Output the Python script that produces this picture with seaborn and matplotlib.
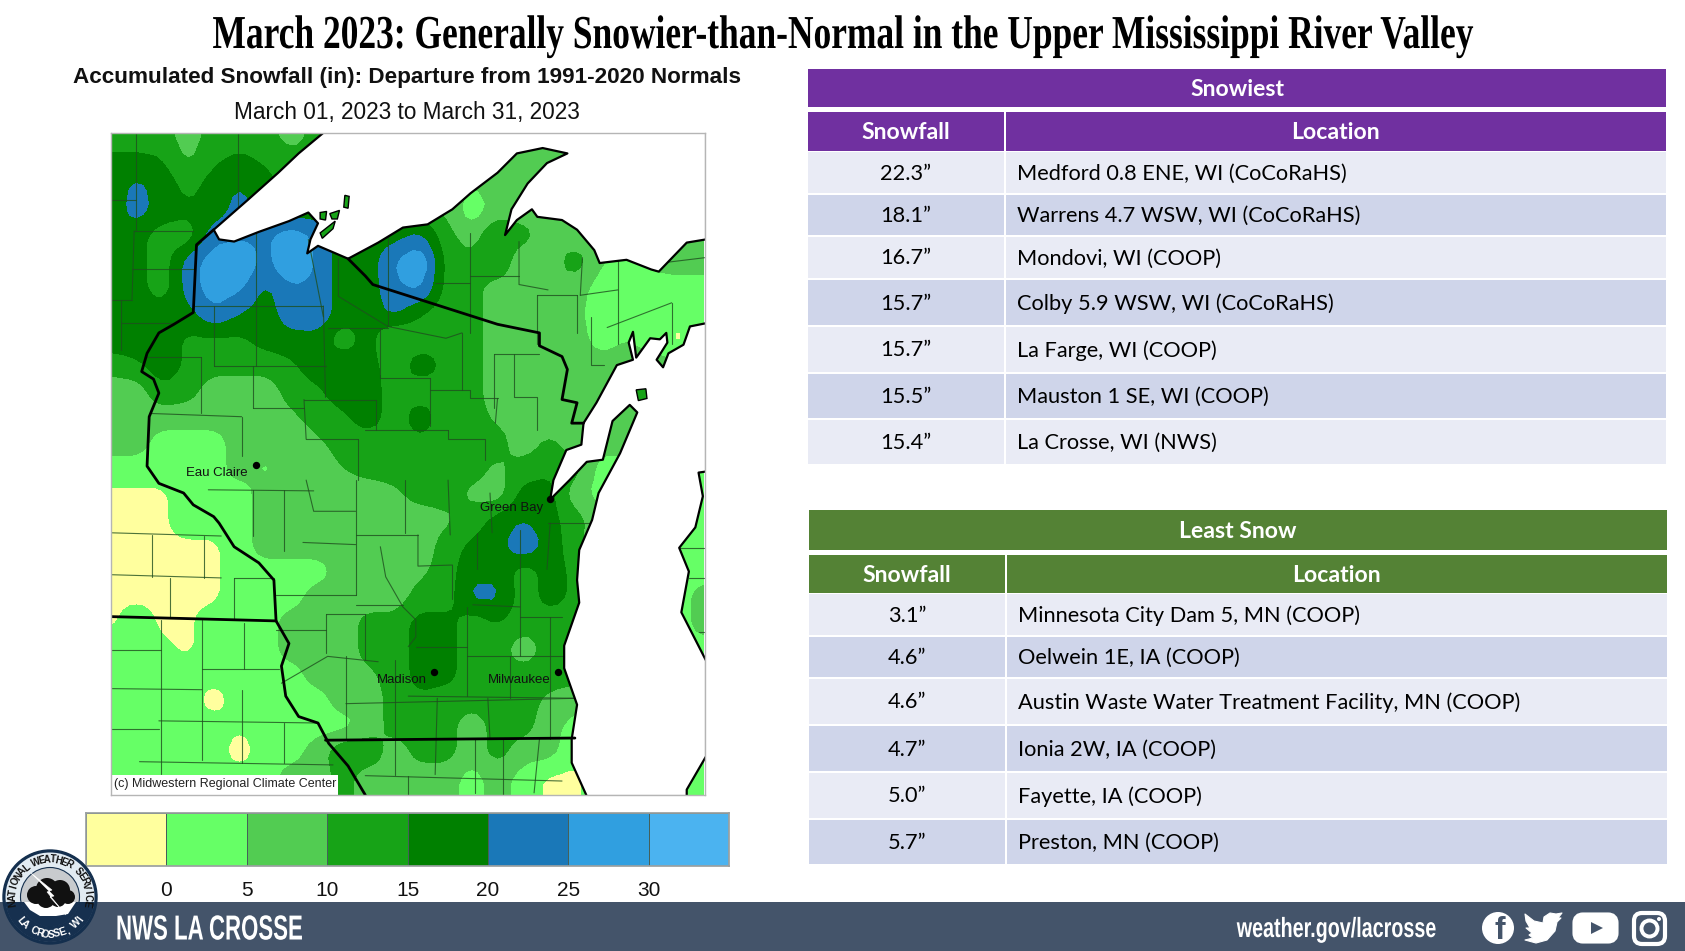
import math
import numpy as np
import seaborn as sns
import matplotlib
matplotlib.use('Agg')
import matplotlib.pyplot as plt
from matplotlib.colors import ListedColormap
from matplotlib.patches import Rectangle, Polygon, Circle, FancyBboxPatch
from matplotlib.patheffects import AbstractPathEffect
from matplotlib.transforms import Affine2D

sns.set_theme(style='white')
plt.rcParams['font.family'] = ['Liberation Sans', 'DejaVu Sans']

# Table values
snowiest_amounts = ['22.3”', '18.1”', '16.7”', '15.7”', '15.7”', '15.5”', '15.4”']
snowiest_places = ['Medford 0.8 ENE, WI (CoCoRaHS)', 'Warrens 4.7 WSW, WI (CoCoRaHS)', 'Mondovi, WI (COOP)',
                   'Colby 5.9 WSW, WI (CoCoRaHS)', 'La Farge, WI (COOP)', 'Mauston 1 SE, WI (COOP)',
                   'La Crosse, WI (NWS)']
least_amounts = ['3.1”', '4.6”', '4.6”', '4.7”', '5.0”', '5.7”']
least_places = ['Minnesota City Dam 5, MN (COOP)', 'Oelwein 1E, IA (COOP)',
                'Austin Waste Water Treatment Facility, MN (COOP)', 'Ionia 2W, IA (COOP)',
                'Fayette, IA (COOP)', 'Preston, MN (COOP)']

# Legend
band_levels = [-100, 0, 5, 10, 15, 20, 25, 30, 100]
band_colors = ['#FFFF9E', '#66FF66', '#52CC52', '#17A317', '#008000', '#1A78B8', '#309FE0', '#4BB3F0']
legend_ticks = ['0', '5', '10', '15', '20', '25', '30']

# Snowfall departure (in), on a 24 unit grid
grid_x = list(range(103, 104 + 24 * 23, 24))
grid_y = list(range(124, 125 + 24 * 26, 24))
snow_dep = np.array([
    [12, 12, 12, 7, 12, 12, 12, 7, 12, 12, 12, 12, 12, 12, 12, 12, 12, 12, 7, 7, 7, 7, 7, 7],
    [16, 16, 15, 9, 14, 16, 14, 12, 12, 12, 12, 12, 12, 10, 7, 7, 7, 7, 7, 7, 7, 7, 7, 7],
    [17, 21, 18, 13, 17, 20, 17, 12, 12, 12, 12, 12, 12, 9, 5, 7, 7, 7, 7, 7, 7, 7, 7, 7],
    [17, 22, 18, 16, 17, 22, 17, 17, 17, 17, 17, 17, 12, 9, 2, 7, 7, 7, 7, 7, 7, 7, 7, 7],
    [18, 17, 12, 12, 23, 24, 24, 28, 24, 17, 17, 18, 21, 12, 7, 16, 12, 7, 7, 7, 7, 7, 7, 7],
    [18, 17, 12, 22, 28, 30, 23, 31, 24, 17, 17, 25, 30, 13, 12, 16, 4, 7, 13, 5, 4, 6, 7, 7],
    [18, 17, 12, 22, 28, 26, 19, 24, 24, 17, 17, 24, 26, 13, 12, 7, 7, 7, 7, 3, 3, 3, 3, 3],
    [18, 18, 18, 18, 24, 20, 17, 23, 24, 17, 17, 21, 15, 12, 12, 7, 7, 7, 6, 3, 3, 3, 3, 3],
    [18, 18, 18, 14, 14, 14, 17, 18, 18, 12, 17, 8, 12, 12, 12, 7, 7, 7, 7, 3, 5, 3, -2, 3],
    [12, 14, 18, 14, 12, 12, 12, 14, 18, 18, 17, 12, 18, 14, 12, 7, 7, 7, 7, 7, 7, 7, 7, 7],
    [7, 7, 14, 12, 7, 7, 7, 12, 14, 18, 18, 12, 12, 12, 12, 7, 7, 7, 7, 7, 7, 7, 7, 7],
    [7, 7, 7, 7, 7, 7, 7, 9, 12, 14, 18, 12, 18, 12, 12, 9, 7, 7, 7, 7, 7, 7, 7, 7],
    [7, 7, 3, 3, 3, 7, 7, 7, 9, 12, 12, 12, 14, 12, 12, 12, 7, 11, 7, 7, 7, 7, 7, 7],
    [3, 3, 3, 3, 3, 7, 4, 7, 7, 10, 12, 12, 12, 12, 12, 9, 12, 14, 12, 3, 3, 3, 3, 3],
    [-1, -1, -1, 3, 3, 3, 7, 7, 7, 7, 7, 9, 12, 12, 9, 7, 17, 17, 7, 3, 3, 3, 3, 3],
    [-1, -1, -1, 3, 3, 3, 7, 7, 7, 7, 7, 7, 7, 9, 12, 17, 20, 17, 12, 7, 3, 3, 3, 3],
    [-1, -1, -1, -1, -1, 3, 7, 7, 7, 7, 7, 7, 7, 12, 16, 18, 24, 18, 12, 5, 3, 3, 3, 3],
    [-1, -1, -1, -1, -1, 3, 3, 3, 3, 7, 7, 7, 9, 12, 19, 19, 12, 17, 14, 3, 3, 3, 3, 3],
    [-1, -1, -1, -1, -1, 3, 3, 3, 7, 7, 7, 7, 12, 12, 21, 21, 12, 17, 14, 3, 3, 3, 3, 7],
    [-1, 3, -1, -1, 3, 3, 3, 7, 7, 7, 12, 12, 17, 17, 12, 15, 12, 12, 12, 3, 3, 3, 3, 7],
    [3, 3, 1, -1, 3, 3, 3, 7, 7, 7, 12, 12, 17, 17, 12, 12, 7, 12, 12, 3, 3, 3, 3, 3],
    [3, 3, 3, 3, 2, 3, 3, 3, 7, 7, 9, 12, 17, 17, 12, 12, 12, 12, 12, 3, 3, 3, 3, 3],
    [3, 3, 3, 3, -3, 3, 3, 3, 3, 7, 7, 12, 14, 12, 12, 12, 12, 9, 7, 3, 3, 3, 3, 3],
    [3, 3, 3, 3, 3, 0.5, 3, 3, 3, 3, 7, 12, 12, 12, 7, 12, 12, 7, 3, 3, 3, 3, 3, 3],
    [3, 3, 3, 3, 3, -3, 3, 3, 7, 14, 14, 7, 12, 12, 7, 12, 7, 7, 1, 3, 3, 3, 3, 3],
    [3, 3, 3, 3, 3, 3, 3, 7, 7, 12, 7, 7, 7, 7, 3, 7, 3, -1, -1, 3, 3, 3, 3, 3],
    [3, 3, 3, 3, 3, 3, 3, 7, 7, 12, 7, 7, 7, 7, 3, 7, 3, -1, -1, 3, 3, 3, 3, 3],
], dtype=float)

# Coast outlines
lake_superior = [(302, 123), (278, 143), (259, 161), (231, 186), (199, 214), (204, 223), (218, 225), (241, 216),
                 (269, 206), (287, 198), (296, 208), (289, 223), (286, 236), (296, 229), (324, 241), (352, 226),
                 (375, 212), (398, 209), (421, 195), (438, 180), (463, 161), (481, 143), (505, 138), (528, 143),
                 (509, 152), (491, 171), (476, 195), (470, 219), (481, 205), (495, 195), (500, 202), (523, 205),
                 (537, 214), (553, 233), (558, 245), (583, 242), (606, 251), (613, 253), (639, 226), (657, 223),
                 (657, 123)]
lake_michigan = [(512, 465), (515, 447), (527, 419), (541, 414), (543, 394), (555, 375), (574, 340), (589, 335),
                 (585, 319), (589, 309), (592, 333), (605, 315), (614, 316), (620, 310), (621, 319), (611, 335),
                 (617, 342), (622, 329), (636, 321), (642, 304), (657, 301), (657, 439), (650, 440), (654, 462),
                 (647, 491), (632, 510), (641, 532), (634, 570), (657, 615), (657, 704), (639, 735), (639, 741),
                 (546, 741), (532, 710), (532, 688), (537, 656), (525, 622), (525, 601), (539, 561), (537, 540),
                 (539, 512), (551, 484), (557, 459), (577, 422), (585, 403), (593, 384), (586, 377), (570, 392),
                 (561, 428), (546, 430), (530, 447)]
islands = [[(321, 182), (325, 183), (324, 194), (320, 193)],
           [(298, 198), (304, 197), (303, 205), (298, 204)],
           [(307, 199), (316, 196), (314, 204), (309, 204)],
           [(298, 217), (312, 206), (310, 213), (300, 222)],
           [(592, 363), (601, 362), (602, 371), (594, 373)]]

# State borders
border_wi_mn = [(199, 214), (183, 228), (180, 291), (162, 302), (148, 310), (137, 329), (132, 346), (143, 353),
                (148, 366), (139, 388), (137, 434), (148, 450), (171, 459), (180, 470), (199, 481), (204, 487),
                (218, 509), (241, 524), (255, 540), (257, 578), (269, 599), (262, 620), (266, 648), (278, 667),
                (296, 673), (306, 692), (324, 713), (340, 740)]
border_wi_mi = [(324, 241), (340, 257), (347, 265), (463, 302), (502, 310), (502, 322), (523, 332), (528, 344),
                (523, 372), (537, 375), (532, 394), (543, 394)]
border_mn_ia = [(103, 574), (257, 578)]
border_wi_il = [(303, 689), (535, 687)]

# County lines
counties = [
    [(127, 124), (127, 214)], [(103, 186), (127, 186)], [(125, 215), (180, 215)], [(125, 215), (123, 279)],
    [(103, 279), (123, 279)], [(123, 251), (181, 251)], [(113, 279), (113, 326)], [(113, 301), (162, 301)],
    [(222, 124), (222, 223)], [(238, 215), (238, 341)], [(181, 285), (301, 285)], [(199, 285), (199, 341)],
    [(301, 285), (303, 370)], [(287, 223), (301, 295)], [(315, 241), (315, 276), (361, 304)],
    [(361, 220), (361, 304)], [(305, 305), (361, 305)], [(354, 305), (354, 352)], [(187, 332), (187, 385)],
    [(134, 332), (187, 332)], [(199, 341), (303, 341)], [(236, 341), (236, 380)], [(236, 380), (283, 380)],
    [(141, 385), (225, 388)], [(225, 388), (225, 425)], [(283, 372), (350, 372)], [(283, 372), (285, 409)],
    [(285, 409), (333, 409)], [(333, 409), (333, 447)], [(354, 352), (400, 352)], [(400, 352), (400, 397)],
    [(400, 363), (437, 363), (437, 371), (463, 371)], [(463, 371), (461, 394)], [(350, 372), (350, 400)],
    [(340, 400), (417, 400)], [(417, 400), (417, 409), (451, 409), (451, 428)], [(437, 217), (437, 310)],
    [(430, 310), (430, 363)], [(361, 304), (415, 315), (430, 310)], [(405, 264), (437, 264)],
    [(437, 257), (483, 257)], [(483, 225), (483, 265), (510, 270)], [(500, 275), (537, 275)],
    [(537, 275), (537, 310)], [(460, 330), (502, 330)], [(500, 275), (500, 320)], [(460, 330), (460, 380)],
    [(478, 330), (478, 370), (500, 370), (500, 400)], [(540, 275), (575, 270)], [(542, 240), (540, 275)],
    [(575, 242), (575, 320)], [(565, 305), (625, 282)], [(625, 282), (625, 320)], [(615, 245), (656, 240)],
    [(550, 295), (550, 340), (562, 340)], [(103, 496), (206, 499)], [(142, 498), (142, 537)], [(103, 535), (206, 538)],
    [(190, 499), (190, 538)], [(158, 538), (158, 574)], [(218, 538), (255, 538)], [(218, 538), (218, 576)],
    [(257, 554), (331, 554)], [(227, 580), (227, 623)], [(150, 577), (150, 720)], [(188, 577), (188, 707)],
    [(103, 605), (150, 605)], [(188, 623), (260, 623)], [(103, 641), (188, 642)], [(148, 671), (296, 673)],
    [(103, 679), (148, 679)], [(225, 642), (225, 710)], [(264, 673), (264, 710)], [(130, 709), (310, 712)],
    [(236, 456), (236, 499)], [(264, 456), (264, 513)], [(194, 456), (292, 457)], [(282, 505), (331, 507)],
    [(285, 447), (292, 476), (331, 476)], [(331, 447), (331, 554)], [(331, 498), (389, 498)],
    [(377, 447), (377, 496)], [(417, 447), (419, 498)], [(456, 459), (458, 496)], [(389, 498), (389, 527), (421, 526)],
    [(444, 496), (444, 530)], [(421, 526), (421, 558)], [(484, 493), (484, 574)], [(510, 487), (551, 487)],
    [(512, 487), (509, 530)], [(440, 563), (484, 565)], [(331, 563), (375, 563)], [(435, 565), (435, 648)],
    [(484, 574), (523, 574)], [(484, 574), (484, 611)], [(435, 611), (525, 611)], [(475, 611), (475, 650)],
    [(380, 648), (537, 650)], [(512, 574), (512, 688)], [(407, 650), (405, 721)], [(454, 650), (456, 688)],
    [(368, 614), (368, 721)], [(387, 602), (435, 602)], [(303, 572), (340, 572)], [(303, 572), (303, 608)],
    [(340, 572), (340, 614)], [(257, 586), (303, 586)], [(262, 636), (305, 611), (352, 616)], [(322, 611), (322, 688)],
    [(322, 655), (537, 650)], [(354, 509), (359, 537), (375, 565), (387, 577), (387, 593), (380, 602)],
    [(442, 688), (442, 738)], [(468, 688), (468, 740)], [(502, 688), (497, 738)], [(340, 722), (523, 727)],
    [(380, 722), (380, 740)], [(632, 510), (656, 510)], [(641, 538), (656, 538)], [(650, 588), (656, 588)],
]

# Map labels
city_names = ['Eau Claire', 'Green Bay', 'Madison', 'Milwaukee']
city_x = [238, 512, 404, 519]
city_y = [433, 465, 626, 626]
label_x = [202, 476, 374, 483]
label_y = [440, 473, 633, 633]


class Squeeze(AbstractPathEffect):
    # narrows text around a pixel column, the condensed fonts are not installed
    def __init__(self, anchor, factor):
        super().__init__()
        self.squeeze = Affine2D().translate(-anchor, 0).scale(factor, 1).translate(anchor, 0)

    def draw_path(self, renderer, gc, tpath, affine, rgbFace=None):
        renderer.draw_path(gc, tpath, affine + self.squeeze, rgbFace)


def smooth_field(x, y, z, factor=4):
    # finer grid plus a small box blur so the contour edges look less angular
    fx = np.linspace(x[0], x[-1], (len(x) - 1) * factor + 1)
    fy = np.linspace(y[0], y[-1], (len(y) - 1) * factor + 1)
    by_col = np.array([np.interp(fx, x, row) for row in z])
    fine = np.array([np.interp(fy, y, col) for col in by_col.T]).T
    pad = np.pad(fine, 1, mode='edge')
    blur = sum(pad[1 + i:pad.shape[0] - 1 + i, 1 + j:pad.shape[1] - 1 + j]
               for i in (-1, 0, 1) for j in (-1, 0, 1)) / 9
    return fx, fy, blur


def draw_table(ax, x0, x_mid, x1, edges, title, fill, amounts, places):
    ax.add_patch(Rectangle((x0, edges[0]), x1 - x0, edges[1] - edges[0], fc=fill, ec='none'))
    ax.text((x0 + x1) / 2, (edges[0] + edges[1]) / 2 + 2, title, color='white', fontsize=16.6, fontweight='bold',
            ha='center', va='center', family=table_font)
    ax.add_patch(Rectangle((x0, edges[2]), x_mid - x0, edges[3] - edges[2], fc=fill, ec='none'))
    ax.add_patch(Rectangle((x_mid + 2, edges[2]), x1 - x_mid - 2, edges[3] - edges[2], fc=fill, ec='none'))
    ax.text((x0 + x_mid) / 2, (edges[2] + edges[3]) / 2 + 1, 'Snowfall', color='white', fontsize=16.6,
            fontweight='bold', ha='center', va='center', family=table_font)
    ax.text((x_mid + x1) / 2, (edges[2] + edges[3]) / 2 + 1, 'Location', color='white', fontsize=16.6,
            fontweight='bold', ha='center', va='center', family=table_font)
    rows = edges[3:]
    for i, (amount, place) in enumerate(zip(amounts, places)):
        color = '#E9EBF5' if i % 2 == 0 else '#CFD5EA'
        top, bottom = rows[i] + 1, rows[i + 1] - 1
        ax.add_patch(Rectangle((x0, top), x_mid - x0, bottom - top, fc=color, ec='none'))
        ax.add_patch(Rectangle((x_mid + 2, top), x1 - x_mid - 2, bottom - top, fc=color, ec='none'))
        ax.text((x0 + x_mid) / 2, (top + bottom) / 2 + 1, amount, color='black', fontsize=15.7, ha='center',
                va='center', family=table_font)
        ax.text(x_mid + 13, (top + bottom) / 2 + 1, place, color='black', fontsize=15.7, ha='left', va='center',
                family=table_font)


def arc_text(ax, cx, cy, r, text, start, step, color, size, flip=False):
    # one rotated letter at a time around the badge
    for i, ch in enumerate(text):
        ang = start + step * i
        px = cx + r * math.sin(math.radians(ang))
        py = cy - r * math.cos(math.radians(ang))
        rot = -ang + 180 if flip else -ang
        ax.text(px, py, ch, color=color, fontsize=size, fontweight='bold', ha='center', va='center',
                rotation=rot, rotation_mode='anchor')


def circle_segment(cx, cy, r, chord_y):
    # part of a circle below a horizontal chord (y axis points down)
    half = math.degrees(math.acos((chord_y - cy) / r))
    angs = np.radians(np.linspace(180 - half, 180 + half, 40))
    return np.column_stack([cx + r * np.sin(angs), cy - r * np.cos(angs)])


table_font = ['Lato', 'DejaVu Sans']

fig = plt.figure(figsize=(16.85, 9.51), dpi=100, facecolor='white')

# page layer in pixels
page = fig.add_axes([0, 0, 1, 1])
page.set_xlim(0, 1685)
page.set_ylim(951, 0)
page.axis('off')

page.text(843, 37, 'March 2023: Generally Snowier-than-Normal in the Upper Mississippi River Valley',
          fontsize=34, fontweight='bold', ha='center', va='center', color='black', family='Liberation Serif',
          path_effects=[Squeeze(843, 0.75)])
page.text(407, 77, 'Accumulated Snowfall (in): Departure from 1991-2020 Normals', fontsize=16.2, fontweight='bold',
          ha='center', va='center', color='#111111')
page.text(407, 112, 'March 01, 2023 to March 31, 2023', fontsize=16.3, ha='center', va='center', color='#111111')

draw_table(page, 808, 1004, 1666, [69, 107, 112, 151, 194, 236, 279, 326, 373, 419, 465],
           'Snowiest', '#7030A0', snowiest_amounts, snowiest_places)
draw_table(page, 809, 1005, 1667, [510, 550, 555, 593, 636, 678, 725, 772, 819, 865],
           'Least Snow', '#548235', least_amounts, least_places)

# map
ax = fig.add_axes([110.5 / 1685, 1 - 795 / 951, 594.5 / 1685, 662 / 951])
fx, fy, fz = smooth_field(grid_x, grid_y, snow_dep)
ax.contourf(fx, fy, fz, levels=band_levels, colors=band_colors)
for line in counties:
    ax.plot(*zip(*line), color='#1f4f1f', lw=0.8, alpha=0.8, solid_capstyle='round')
ax.add_patch(Polygon(lake_superior, fc='white', ec='black', lw=1.6, joinstyle='round', zorder=3))
ax.add_patch(Polygon(lake_michigan, fc='white', ec='black', lw=1.6, joinstyle='round', zorder=3))
for isle in islands:
    ax.add_patch(Polygon(isle, fc='#17A317', ec='black', lw=1.0, zorder=4))
for border in (border_wi_mn, border_wi_mi, border_mn_ia, border_wi_il):
    ax.plot(*zip(*border), color='black', lw=2.0, zorder=5, solid_joinstyle='round')
sns.scatterplot(x=city_x, y=city_y, color='black', s=28, linewidth=0, ax=ax, zorder=6)
for name, lx, ly in zip(city_names, label_x, label_y):
    ax.text(lx, ly, name, fontsize=9.5, color='#111111', ha='center', va='center', zorder=6)
ax.add_patch(Rectangle((103, 721), 212, 20, fc='white', ec='none', zorder=7))
ax.text(106, 730, '(c) Midwestern Regional Climate Center', fontsize=9, color='#222222', ha='left',
        va='center', zorder=8)
ax.set_xlim(103, 656)
ax.set_ylim(740, 124)
ax.set_xticks([])
ax.set_yticks([])
ax.grid(False)
for spine in ax.spines.values():
    spine.set_color('#b5b5b5')
    spine.set_linewidth(1.0)
    spine.set_zorder(9)

# colour key
cax = fig.add_axes([86 / 1685, 1 - 866 / 951, 643 / 1685, 53 / 951])
sns.heatmap(np.arange(len(band_colors)).reshape(1, -1), cmap=ListedColormap(band_colors), cbar=False,
            linewidths=0.5, linecolor='#45605a', xticklabels=False, yticklabels=False, ax=cax)
cax.set_xticks(range(1, len(band_colors)))
cax.set_xticklabels(legend_ticks, fontsize=15, color='#111111')
cax.tick_params(axis='x', length=0, pad=11, rotation=0)
for spine in cax.spines.values():
    spine.set_visible(True)
    spine.set_color('#9aa0a0')

# footer
top = fig.add_axes([0, 0, 1, 1], zorder=10)
top.set_xlim(0, 1685)
top.set_ylim(951, 0)
top.axis('off')
top.add_patch(Rectangle((0, 902), 1685, 49, fc='#44546A', ec='none'))
top.text(116, 930, 'NWS LA CROSSE', color='white', fontsize=25, fontweight='bold', ha='left', va='center',
         path_effects=[Squeeze(116, 0.64)])
top.text(1436, 930, 'weather.gov/lacrosse', color='white', fontsize=20, fontweight='bold', ha='right',
         va='center', path_effects=[Squeeze(1436, 0.71)])

# badge
cx, cy = 50, 897
top.add_patch(Circle((cx, cy), 47, fc='#142F4E', ec='#142F4E'))
top.add_patch(Circle((cx, cy), 44.5, fc='#E2EBF2', ec='none'))
top.add_patch(Polygon(circle_segment(cx, cy, 45, 902), fc='#16304F', ec='none'))
top.add_patch(Circle((cx, cy), 29.5, fc='#C8CBCE', ec='#142F4E', lw=0.8))
top.add_patch(Polygon(circle_segment(cx, cy, 29.5, 902), fc='#16304F', ec='none'))
top.add_patch(Polygon([(24, 902), (76, 902), (68, 914), (56, 916), (40, 916), (30, 910)], fc='white', ec='none'))
for bx, by, br in [(36, 895, 9), (47, 889, 11), (60, 890, 10), (68, 897, 7), (46, 899, 9), (58, 899, 8)]:
    top.add_patch(Circle((bx, by), br, fc='#111111', ec='none'))
top.add_patch(Polygon([(31, 873), (52, 890), (47, 892), (66, 915), (50, 897), (54, 896)], fc='white', ec='white', lw=0.4))
arc_text(top, cx, cy, 37.5, 'NATIONAL WEATHER SERVICE', -100, 8.7, '#111111', 7)
arc_text(top, cx, cy, 37.5, 'LA CROSSE, WI', 231, -8.75, 'white', 7.5, flip=True)

# social icons
top.add_patch(Circle((1498, 928), 16, fc='white', ec='none'))
top.text(1500, 931, 'f', color='#44546A', fontsize=23, fontweight='bold', ha='center', va='center')
top.add_patch(Polygon([(1525, 914), (1534, 921), (1543, 923), (1544, 917), (1550, 913), (1556, 914), (1562, 913),
                       (1558, 918), (1561, 918), (1557, 922), (1555, 931), (1547, 940), (1536, 943), (1525, 940),
                       (1533, 938), (1529, 935), (1532, 933), (1526, 928), (1530, 928), (1526, 921)],
                      fc='white', ec='white', lw=0.8, joinstyle='round'))
top.add_patch(FancyBboxPatch((1578, 918), 35, 20, boxstyle='round,pad=0,rounding_size=5', mutation_aspect=1,
                             fc='white', ec='white', lw=8))
top.add_patch(Polygon([(1591, 922), (1603, 928), (1591, 934)], fc='#44546A', ec='none'))
top.add_patch(FancyBboxPatch((1634, 913), 31, 31, boxstyle='round,pad=0,rounding_size=8', fc='none', ec='white', lw=3))
top.add_patch(Circle((1649.5, 928.5), 8, fc='none', ec='white', lw=2.8))
top.add_patch(Circle((1659, 919), 2, fc='white', ec='none'))

fig.savefig('out.png', dpi=100)
